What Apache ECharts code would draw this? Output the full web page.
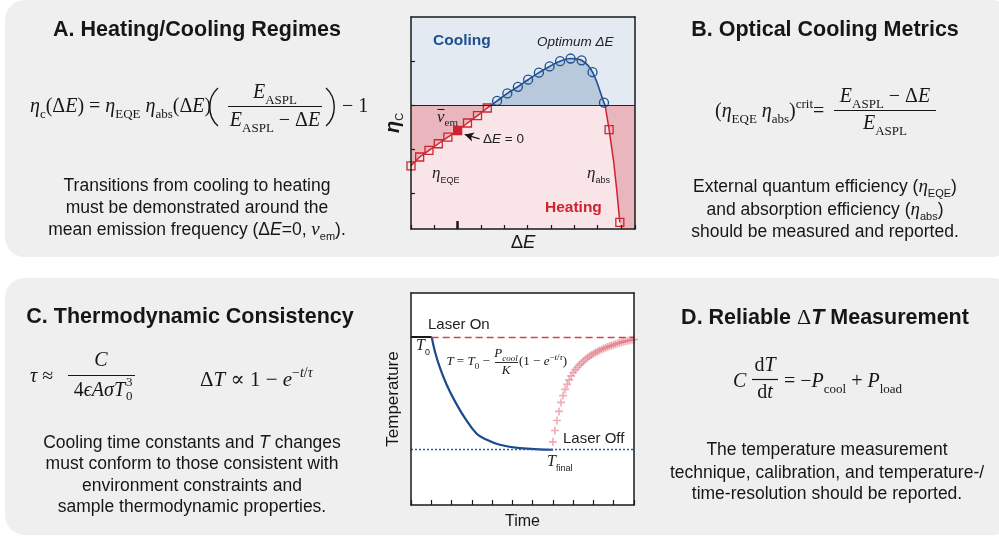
<!DOCTYPE html>
<html>
<head>
<meta charset="utf-8">
<title>Optical cooling: reporting criteria</title>
<script src="https://cdn.jsdelivr.net/npm/echarts@6/dist/echarts.min.js"></script>
<style>
html,body{margin:0;padding:0;background:#ffffff;}
#chart{width:999px;height:538px;}
</style>
</head>
<body>
<div id="chart"></div>
<script>
// ---------------- Panel A data (ΔE in tick units, ΔE = 0 at 0; ηC with 0 = heating/cooling threshold)
const deltaERange = [-2, 7.6];
const etaRange = [-2.8, 2.0];
const etaTicks = [-2, -1, 0, 1];
const deltaEMajorTick = 0;
const eqeDeltaE = [-2.0, -1.63, -1.23, -0.83, -0.42, 0.0, 0.42, 0.85, 1.27];
const eqeEta    = [-1.37, -1.17, -1.02, -0.87, -0.72, -0.57, -0.40, -0.235, -0.06];
const eqeZeroIndex = 5;
const coolStartDeltaE = 1.43;
const coolDeltaE = [1.69, 2.13, 2.58, 3.02, 3.48, 3.94, 4.39, 4.84, 5.31, 5.78, 6.27];
const coolEta    = [0.10, 0.27, 0.42, 0.58, 0.74, 0.88, 1.00, 1.06, 1.02, 0.75, 0.06];
const coolEndDeltaE = 6.32;
const absDeltaE = [6.49, 6.68, 6.82, 6.95];
const absEta    = [-0.55, -1.25, -1.93, -2.65];
const absMarked = [true, false, false, true];
const absEdgeDeltaE = 7.0;
const arrowFrom = [0.94, -0.76];
const arrowTo = [0.30, -0.66];

// ---------------- Panel C data (time in tick units, temperature: 1 = T0, 0 = Tfinal)
const timeRange = [0, 11];
const tempRange = [-0.49, 1.39];
const T0 = 1, Tfinal = 0;
const laserOnTime = 1.02;
const decayTime = [1.02, 1.18, 1.43, 1.76, 2.17, 2.66, 3.24, 3.73, 4.38, 5.37, 7.01];
const decayTemp = [1.0, 0.872, 0.725, 0.577, 0.429, 0.281, 0.142, 0.089, 0.044, 0.015, 0.0];
const recoveryTime = [7.0,7.1,7.2,7.3,7.4,7.5,7.6,7.7,7.8,7.9,8.0,8.1,8.2,8.3,8.4,8.5,8.6,8.7,8.8,8.9,9.0,
  9.1,9.2,9.3,9.4,9.5,9.6,9.7,9.8,9.9,10.0,10.1,10.2,10.3,10.4,10.5,10.6,10.7,10.8,10.9,11.0];
const recoveryTemp = [0.07,0.17,0.26,0.34,0.42,0.48,0.535,0.58,0.62,0.655,0.685,0.71,0.73,0.75,0.767,0.785,0.80,
  0.815,0.828,0.84,0.852,0.862,0.872,0.881,0.89,0.898,0.905,0.912,0.919,0.925,0.932,0.938,0.944,0.949,0.954,
  0.959,0.963,0.967,0.971,0.975,0.978];

// ---------------- styles
const SANS = '"Liberation Sans", Arial, Helvetica, sans-serif';
const SERIF = '"Liberation Serif", "DejaVu Serif", "Times New Roman", serif';
const INK = '#161616';
const RED = '#cf2331';
const BLUE = '#1e4f8f';
const AXIS = '#1a1a1a';
const PLUS = 'path://M4,0H6V4H10V6H6V10H4V6H0V4H4Z';

const math = {
  u:  {fontFamily: SERIF, fontSize: 20, lineHeight: 28, fill: INK},
  i:  {fontFamily: SERIF, fontSize: 20, fontStyle: 'italic', lineHeight: 28, fill: INK},
  sb: {fontFamily: SERIF, fontSize: 13, lineHeight: 17, verticalAlign: 'bottom', fill: INK},
  sp: {fontFamily: SERIF, fontSize: 13, lineHeight: 14, verticalAlign: 'top', fill: INK},
  spi:{fontFamily: SERIF, fontSize: 13, fontStyle: 'italic', lineHeight: 14, verticalAlign: 'top', fill: INK}
};
const mathC = {
  u:  {fontFamily: SERIF, fontSize: 21, lineHeight: 28, fill: INK},
  i:  {fontFamily: SERIF, fontSize: 21, fontStyle: 'italic', lineHeight: 28, fill: INK},
  sp: {fontFamily: SERIF, fontSize: 14, lineHeight: 14, verticalAlign: 'top', fill: INK},
  spi:{fontFamily: SERIF, fontSize: 14, fontStyle: 'italic', lineHeight: 14, verticalAlign: 'top', fill: INK}
};
const small = {
  u:  {fontFamily: SERIF, fontSize: 13, lineHeight: 18, fill: INK},
  i:  {fontFamily: SERIF, fontSize: 13, fontStyle: 'italic', lineHeight: 18, fill: INK},
  sb: {fontFamily: SERIF, fontSize: 9, lineHeight: 11, verticalAlign: 'bottom', fill: INK},
  sbi:{fontFamily: SERIF, fontSize: 9, fontStyle: 'italic', lineHeight: 11, verticalAlign: 'bottom', fill: INK},
  sp: {fontFamily: SERIF, fontSize: 9, lineHeight: 9, verticalAlign: 'top', fill: INK},
  spi:{fontFamily: SERIF, fontSize: 9, fontStyle: 'italic', lineHeight: 9, verticalAlign: 'top', fill: INK}
};
const body = {
  t:  {fontFamily: SANS, fontSize: 17.5, lineHeight: 24, fill: INK},
  ti: {fontFamily: SANS, fontSize: 17.5, fontStyle: 'italic', lineHeight: 24, fill: INK},
  g:  {fontFamily: SERIF, fontSize: 19, fontStyle: 'italic', lineHeight: 24, fill: INK},
  s:  {fontFamily: SANS, fontSize: 11, lineHeight: 13, verticalAlign: 'bottom', fill: INK}
};
const title = {
  b:  {fontFamily: SANS, fontSize: 21.5, fontWeight: 'bold', lineHeight: 26, fill: INK},
  bi: {fontFamily: SANS, fontSize: 21.5, fontWeight: 'bold', fontStyle: 'italic', lineHeight: 26, fill: INK},
  d:  {fontFamily: SERIF, fontSize: 22, lineHeight: 26, fill: INK}
};
const note = {
  c:  {fontFamily: SANS, fontSize: 15.5, fontWeight: 'bold', lineHeight: 20, fill: BLUE},
  h:  {fontFamily: SANS, fontSize: 15.5, fontWeight: 'bold', lineHeight: 20, fill: RED},
  o:  {fontFamily: SANS, fontSize: 13.5, fontStyle: 'italic', lineHeight: 18, fill: '#222'},
  a:  {fontFamily: SANS, fontSize: 13.5, lineHeight: 18, fill: '#222'},
  ai: {fontFamily: SANS, fontSize: 13.5, fontStyle: 'italic', lineHeight: 18, fill: '#222'},
  l:  {fontFamily: SANS, fontSize: 15, lineHeight: 20, fill: '#222'},
  g:  {fontFamily: SERIF, fontSize: 17, fontStyle: 'italic', lineHeight: 22, fill: '#222'},
  n:  {fontFamily: SERIF, fontSize: 17, fontStyle: 'italic', lineHeight: 22, fill: '#222'},
  s:  {fontFamily: SANS, fontSize: 9, lineHeight: 11, verticalAlign: 'bottom', fill: '#222'},
  se: {fontFamily: SERIF, fontSize: 11, lineHeight: 13, verticalAlign: 'bottom', fill: '#222'},
  T:  {fontFamily: SERIF, fontSize: 16, fontStyle: 'italic', lineHeight: 22, fill: '#222'}
};

function tx(x, y, text, rich, align) {
  return {type: 'text', x: x, y: y, z: 50, silent: true,
    style: {text: text, rich: rich, align: align || 'center', verticalAlign: 'middle', fill: INK}};
}
function ln(x1, y1, x2, y2, w) {
  return {type: 'line', z: 50, silent: true, shape: {x1: x1, y1: y1, x2: x2, y2: y2},
    style: {stroke: INK, lineWidth: w || 1.2}};
}
function paren(x, top, bottom, bulge) {
  const h = bottom - top;
  return {type: 'bezierCurve', z: 50, silent: true,
    shape: {x1: x, y1: top, x2: x, y2: bottom, cpx1: x + bulge, cpy1: top + h * 0.25, cpx2: x + bulge, cpy2: top + h * 0.75},
    style: {stroke: INK, lineWidth: 1.4, fill: null}};
}

const graphics = [
  {type: 'rect', z: -10, silent: true, shape: {x: 5, y: 0, width: 1007, height: 257, r: 20}, style: {fill: '#efefef'}},
  {type: 'rect', z: -10, silent: true, shape: {x: 5, y: 278, width: 1007, height: 257, r: 20}, style: {fill: '#efefef'}},

  // titles
  tx(197, 30, '{b|A. Heating/Cooling Regimes}', title),
  tx(825, 30, '{b|B. Optical Cooling Metrics}', title),
  tx(190, 317, '{b|C. Thermodynamic Consistency}', title),
  tx(825, 318, '{b|D. Reliable }{d|Δ}{bi|T}{b| Measurement}', title),

  // A equation
  tx(30, 107, '{i|η}{sb|c}{u|(Δ}{i|E}{u|) = }{i|η}{sb|EQE}{u| }{i|η}{sb|abs}{u|(Δ}{i|E}{u|)}', math, 'left'),
  paren(218, 88, 126, -11),
  tx(275, 93, '{i|E}{sb|ASPL}', math),
  ln(228, 106.5, 322, 106.5),
  tx(275, 121, '{i|E}{sb|ASPL}{u| − Δ}{i|E}', math),
  paren(326, 88, 126, 11),
  tx(342, 107, '{u|− 1}', math, 'left'),

  // A body
  tx(197, 186, '{t|Transitions from cooling to heating}', body),
  tx(197, 208, '{t|must be demonstrated around the}', body),
  tx(197, 230, '{t|mean emission frequency (Δ}{ti|E}{t|=0, }{g|ν}{s|em}{t|).}', body),

  // B equation
  tx(715, 112, '{u|(}{i|η}{sb|EQE}{u| }{i|η}{sb|abs}{u|)}{sp|crit}{u|= }', math, 'left'),
  tx(885, 97, '{i|E}{sb|ASPL}{u| − Δ}{i|E}', math),
  ln(834, 110.5, 936, 110.5),
  tx(885, 124, '{i|E}{sb|ASPL}', math),

  // B body
  tx(825, 187, '{t|External quantum efficiency (}{g|η}{s|EQE}{t|)}', body),
  tx(825, 210, '{t|and absorption efficiency (}{g|η}{s|abs}{t|)}', body),
  tx(825, 232, '{t|should be measured and reported.}', body),

  // C equations
  tx(30, 377, '{i|τ}{u| ≈}', math, 'left'),
  tx(101, 361, '{i|C}', math),
  ln(68, 375.5, 135, 375.5),
  tx(125, 391, '{u|4}{i|ϵAσT}', math, 'right'),
  tx(126, 383, '{sp|3}', math, 'left'),
  tx(126, 397, '{sp|0}', math, 'left'),
  tx(200, 380, '{u|Δ}{i|T}{u| ∝ 1 − }{i|e}{sp|−}{spi|t}{sp|/}{spi|τ}', mathC, 'left'),

  // C body
  tx(192, 443, '{t|Cooling time constants and }{ti|T}{t| changes}', body),
  tx(192, 464, '{t|must conform to those consistent with}', body),
  tx(192, 486, '{t|environment constraints and}', body),
  tx(192, 507, '{t|sample thermodynamic properties.}', body),

  // D equation
  tx(733, 382, '{i|C}', math, 'left'),
  tx(765, 366, '{u|d}{i|T}', math),
  ln(752, 379.5, 778, 379.5),
  tx(765, 393, '{u|d}{i|t}', math),
  tx(784, 382, '{u|= −}{i|P}{sb|cool}{u| + }{i|P}{sb|load}', math, 'left'),

  // D body
  tx(827, 450, '{t|The temperature measurement}', body),
  tx(827, 473, '{t|technique, calibration, and temperature-/}', body),
  tx(827, 494, '{t|time-resolution should be reported.}', body),

  // annotations inside plot A
  tx(433, 41, '{c|Cooling}', note, 'left'),
  tx(537, 42, '{o|Optimum ΔE}', note, 'left'),
  tx(437, 118, '{n|ν}{se|em}', note, 'left'),
  ln(437.5, 109.5, 444.5, 109.5, 1),
  tx(483, 139, '{a|Δ}{ai|E}{a| = 0}', note, 'left'),
  tx(432, 174, '{g|η}{s|EQE}', note, 'left'),
  tx(587, 174, '{g|η}{s|abs}', note, 'left'),
  tx(545, 208, '{h|Heating}', note, 'left'),

  // annotations inside plot C
  tx(428, 325, '{l|Laser On}', note, 'left'),
  tx(416, 346, '{T|T}{s|0}', note, 'left'),
  tx(493, 362, '{i|T}{u| = }{i|T}{sb|0}{u| − }', small, 'right'),
  tx(506, 354, '{i|P}{sbi|cool}', small),
  ln(495, 362.5, 518, 362.5, 0.9),
  tx(506, 371, '{i|K}', small),
  tx(519, 362, '{u|(1 − }{i|e}{sp|−}{spi|t}{sp|/}{spi|τ}{u|)}', small, 'left'),
  tx(563, 439, '{l|Laser Off}', note, 'left'),
  tx(547, 462, '{T|T}{s|final}', note, 'left')
];

// ---------------- series data built from the arrays
const eqeData = eqeDeltaE.map((x, i) => i === eqeZeroIndex
  ? {value: [x, eqeEta[i]], itemStyle: {color: RED}}
  : [x, eqeEta[i]]);
eqeData.push({value: [coolStartDeltaE, 0], symbol: 'none'});

const coolData = [{value: [coolStartDeltaE, 0], symbol: 'none'}]
  .concat(coolDeltaE.map((x, i) => [x, coolEta[i]]))
  .concat([{value: [coolEndDeltaE, 0], symbol: 'none'}]);

const absData = [{value: [coolEndDeltaE, 0], symbol: 'none'}]
  .concat(absDeltaE.map((x, i) => absMarked[i] ? [x, absEta[i]] : {value: [x, absEta[i]], symbol: 'none'}));

const absFillData = [[coolEndDeltaE, 0]]
  .concat(absDeltaE.map((x, i) => [x, absEta[i]]))
  .concat([[absEdgeDeltaE, etaRange[0]], [deltaERange[1], etaRange[0]]]);

const decayData = decayTime.map((t, i) => [t, decayTemp[i]]);
const recoveryData = recoveryTime.map((t, i) => [t, recoveryTemp[i]]);

const axisLineStyle = {color: AXIS, width: 1.5};
function borderAxis(gridIndex, position, range) {
  return {gridIndex: gridIndex, type: 'value', position: position, min: range[0], max: range[1], z: 10,
    axisLine: {show: true, onZero: false, lineStyle: axisLineStyle},
    axisTick: {show: false}, axisLabel: {show: false}, splitLine: {show: false}};
}

const option = {
  backgroundColor: '#ffffff',
  animation: false,
  graphic: graphics,
  grid: [
    {left: 411, top: 17, width: 224, height: 212},
    {left: 411, top: 293, width: 223, height: 212, show: true, backgroundColor: '#ffffff', borderWidth: 0}
  ],
  xAxis: [
    {gridIndex: 0, type: 'value', position: 'bottom', min: deltaERange[0], max: deltaERange[1], interval: 1, z: 10,
      axisLine: {show: true, onZero: false, lineStyle: axisLineStyle},
      axisTick: {show: true, inside: true, length: 4, lineStyle: {color: AXIS, width: 1.2}},
      axisLabel: {show: false}, splitLine: {show: false},
      name: '{a|Δ}{b|E}', nameLocation: 'middle', nameGap: 4,
      nameTextStyle: {rich: {
        a: {fontFamily: SANS, fontSize: 18.5, color: INK, lineHeight: 20},
        b: {fontFamily: SANS, fontSize: 18.5, fontStyle: 'italic', color: INK, lineHeight: 20}}}},
    borderAxis(0, 'top', deltaERange),
    {gridIndex: 1, type: 'value', position: 'bottom', min: timeRange[0], max: timeRange[1], interval: 1, z: 10,
      axisLine: {show: true, onZero: false, lineStyle: axisLineStyle},
      axisTick: {show: true, inside: true, length: 5, lineStyle: {color: AXIS, width: 1.2}},
      axisLabel: {show: false}, splitLine: {show: false},
      name: 'Time', nameLocation: 'middle', nameGap: 8,
      nameTextStyle: {fontFamily: SANS, fontSize: 16, color: INK, lineHeight: 18}},
    borderAxis(1, 'top', timeRange)
  ],
  yAxis: [
    {gridIndex: 0, type: 'value', position: 'left', min: etaRange[0], max: etaRange[1], z: 10,
      axisLine: {show: true, onZero: false, lineStyle: axisLineStyle},
      axisTick: {show: true, inside: true, length: 4, customValues: etaTicks, lineStyle: {color: AXIS, width: 1.2}},
      axisLabel: {show: false}, splitLine: {show: false},
      name: '{e|η}{c|C}', nameLocation: 'middle', nameGap: 6,
      nameTextStyle: {rich: {
        e: {fontFamily: SANS, fontSize: 20, fontWeight: 'bold', fontStyle: 'italic', color: INK, lineHeight: 24},
        c: {fontFamily: SANS, fontSize: 11, color: INK, lineHeight: 12, verticalAlign: 'bottom'}}}},
    borderAxis(0, 'right', etaRange),
    {gridIndex: 1, type: 'value', position: 'left', min: tempRange[0], max: tempRange[1], z: 10,
      axisLine: {show: true, onZero: false, lineStyle: axisLineStyle},
      axisTick: {show: false}, axisLabel: {show: false}, splitLine: {show: false},
      name: 'Temperature', nameLocation: 'middle', nameGap: 8,
      nameTextStyle: {fontFamily: SANS, fontSize: 17, color: INK, lineHeight: 20}},
    borderAxis(1, 'right', tempRange)
  ],
  series: [
    { // backgrounds of the cooling / heating regimes
      name: 'regimes', type: 'line', xAxisIndex: 0, yAxisIndex: 0, z: 1, silent: true,
      symbol: 'none', data: [[deltaERange[0], 0]], lineStyle: {opacity: 0},
      markArea: {silent: true, data: [
        [{yAxis: 0, itemStyle: {color: '#e4eaf1', opacity: 1}}, {yAxis: etaRange[1]}],
        [{yAxis: etaRange[0], itemStyle: {color: '#f9e5e7', opacity: 1}}, {yAxis: 0}]
      ]}
    },
    {
      name: 'absFill', type: 'line', xAxisIndex: 0, yAxisIndex: 0, z: 2, silent: true,
      symbol: 'none', data: absFillData, lineStyle: {width: 0, opacity: 0},
      areaStyle: {color: '#e9b6bd', opacity: 1, origin: 0}
    },
    {
      name: 'ηEQE', type: 'line', xAxisIndex: 0, yAxisIndex: 0, z: 3, silent: true,
      data: eqeData, symbol: 'rect', symbolSize: 8, showAllSymbol: true,
      lineStyle: {color: RED, width: 1.5},
      itemStyle: {color: 'rgba(255,255,255,0)', borderColor: RED, borderWidth: 1.3},
      areaStyle: {color: '#e9b6bd', opacity: 1, origin: 0},
      markLine: {silent: true, symbol: ['none', 'none'], symbolSize: 8, label: {show: false}, data: [
        [{coord: arrowFrom, lineStyle: {color: INK, width: 1.2, type: 'solid'}}, {coord: arrowTo, symbol: 'arrow', symbolSize: [7, 9]}],
        [{coord: [deltaEMajorTick, etaRange[0]], lineStyle: {color: AXIS, width: 2.5, type: 'solid'}}, {coord: [deltaEMajorTick, etaRange[0] + 0.18]}]
      ]}
    },
    {
      name: 'cooling', type: 'line', xAxisIndex: 0, yAxisIndex: 0, z: 3, silent: true,
      data: coolData, smooth: 0.35, symbol: 'circle', symbolSize: 9, showAllSymbol: true,
      lineStyle: {color: BLUE, width: 1.6},
      itemStyle: {color: 'rgba(255,255,255,0)', borderColor: BLUE, borderWidth: 1.3},
      areaStyle: {color: '#b7c9db', opacity: 1, origin: 0},
      markLine: {silent: true, symbol: ['none', 'none'], label: {show: false},
        lineStyle: {color: '#262626', width: 1.2, type: 'solid'}, data: [{yAxis: 0}]}
    },
    {
      name: 'ηabs', type: 'line', xAxisIndex: 0, yAxisIndex: 0, z: 3, silent: true,
      data: absData, symbol: 'rect', symbolSize: 8, showAllSymbol: true,
      lineStyle: {color: RED, width: 1.5},
      itemStyle: {color: 'rgba(255,255,255,0)', borderColor: RED, borderWidth: 1.3}
    },
    {
      name: 'T0', type: 'line', xAxisIndex: 2, yAxisIndex: 2, z: 3, silent: true,
      data: [[timeRange[0], T0], [laserOnTime, T0]], symbol: 'none',
      lineStyle: {color: '#1a1a1a', width: 2},
      markLine: {silent: true, symbol: ['none', 'none'], label: {show: false}, data: [
        [{coord: [laserOnTime, T0], lineStyle: {color: '#d8414b', width: 1.3, type: [7, 4]}}, {coord: [timeRange[1], T0]}],
        [{coord: [timeRange[0], Tfinal], lineStyle: {color: '#2b5ea8', width: 1.3, type: [2, 2]}}, {coord: [timeRange[1], Tfinal]}]
      ]}
    },
    {
      name: 'cooling curve', type: 'line', xAxisIndex: 2, yAxisIndex: 2, z: 3, silent: true,
      data: decayData, smooth: 0.4, symbol: 'none',
      lineStyle: {color: '#1b4a8c', width: 2.2}
    },
    {
      name: 'recovery', type: 'scatter', xAxisIndex: 2, yAxisIndex: 2, z: 3, silent: true,
      data: recoveryData, symbol: PLUS, symbolSize: 8,
      itemStyle: {color: 'rgba(230,112,128,0.72)'}
    }
  ]
};

const chart = echarts.init(document.getElementById('chart'), null, {renderer: 'canvas'});
chart.setOption(option);
</script>
</body>
</html>
